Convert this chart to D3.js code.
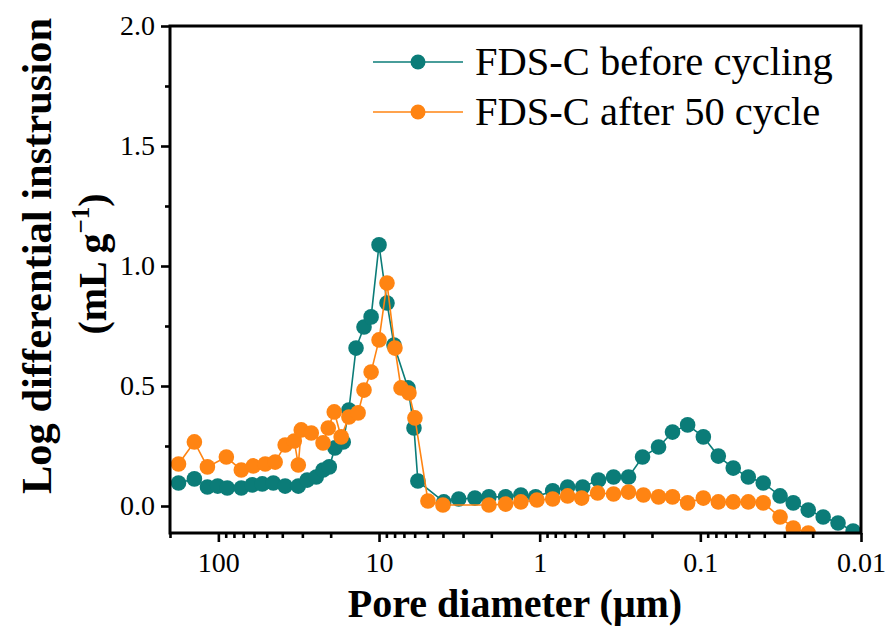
<!DOCTYPE html>
<html>
<head>
<meta charset="utf-8">
<script src="https://cdn.jsdelivr.net/npm/d3@7"></script>
<style>
  body { margin: 0; background: #fff; }
  svg { display: block; }
</style>
</head>
<body>
<div id="chart"></div>
<script>
// pore diameter (um) and log differential intrusion
const beforeDiam = [177, 141, 117, 101, 88, 72, 61.5, 53.3, 45.5, 38.4, 31.8, 28, 24.6, 22.3, 20.4, 18.8, 16.7, 15.4, 13.9, 12.4, 11.2, 10,
  8.92, 8.07, 6.6, 6.06, 5.73, 3.95, 3.19, 2.53, 2.07, 1.63, 1.31, 1.06, 0.83, 0.67, 0.54, 0.43, 0.347, 0.28, 0.229, 0.182, 0.149, 0.12,
  0.0958, 0.0773, 0.0624, 0.0503, 0.0406, 0.0319, 0.0264, 0.0213, 0.0172, 0.0139, 0.0112]
const beforeVal = [0.096, 0.113, 0.079, 0.083, 0.075, 0.075, 0.088, 0.092, 0.096, 0.083, 0.083, 0.108, 0.121, 0.15, 0.163, 0.242, 0.267, 0.40, 0.658, 0.746, 0.788, 1.088,
  0.846, 0.671, 0.492, 0.325, 0.104, 0.017, 0.029, 0.033, 0.038, 0.038, 0.046, 0.038, 0.063, 0.079, 0.079, 0.108, 0.121, 0.121, 0.204, 0.246, 0.308, 0.338,
  0.288, 0.208, 0.158, 0.121, 0.096, 0.042, 0.013, -0.017, -0.046, -0.071, -0.104]

const afterDiam = [177, 141, 117, 89.2, 72, 60.6, 51.1, 44.3, 38.4, 33.7, 31.8, 30.5, 26.4, 22.3, 20.7, 19, 17.2, 15.4, 13.5, 12.4, 11.2, 10,
  8.92, 7.96, 7.3, 6.51, 5.98, 4.96, 4.0, 2.07, 1.63, 1.31, 1.04, 0.83, 0.67, 0.548, 0.436, 0.347, 0.28, 0.226, 0.182, 0.149, 0.12,
  0.0958, 0.0773, 0.0624, 0.0503, 0.0406, 0.0319, 0.0264, 0.0213]
const afterVal = [0.175, 0.267, 0.163, 0.204, 0.15, 0.167, 0.175, 0.183, 0.254, 0.271, 0.171, 0.317, 0.304, 0.263, 0.325, 0.392, 0.288, 0.371, 0.388, 0.483, 0.558, 0.692,
  0.929, 0.658, 0.492, 0.471, 0.367, 0.021, 0.004, 0.004, 0.008, 0.017, 0.025, 0.029, 0.042, 0.033, 0.054, 0.05, 0.058, 0.046, 0.038, 0.038, 0.013,
  0.033, 0.017, 0.017, 0.017, 0.013, -0.046, -0.092, -0.113]

const seriesNames = ['FDS-C before cycling', 'FDS-C after 50 cycle']
const seriesColors = ['#0b7c78', '#ff8412']
const xTicks = [100, 10, 1, 0.1, 0.01]
const xTickLabels = ['100', '10', '1', '0.1', '0.01']
const yTicks = [0, 0.5, 1.0, 1.5, 2.0]

const W = 889, H = 628
const margin = {left: 170, right: 28, top: 26, bottom: 95}

const svg = d3.select('#chart').append('svg').attr('width', W).attr('height', H)

const x = d3.scaleLog().domain([200, 0.01]).range([margin.left, W - margin.right])
const y = d3.scaleLinear().domain([-0.1125, 2.0]).range([H - margin.bottom, margin.top])

const serif = '"Liberation Serif", "Times New Roman", serif'

svg.append('clipPath').attr('id', 'plotclip')
  .append('rect')
  .attr('x', margin.left).attr('y', margin.top)
  .attr('width', W - margin.left - margin.right)
  .attr('height', H - margin.top - margin.bottom)

const plot = svg.append('g').attr('clip-path', 'url(#plotclip)')

const series = [
  {name: seriesNames[0], color: seriesColors[0], pts: beforeDiam.map((d, i) => [d, beforeVal[i]])},
  {name: seriesNames[1], color: seriesColors[1], pts: afterDiam.map((d, i) => [d, afterVal[i]])}
]

const line = d3.line().x(d => x(d[0])).y(d => y(d[1]))

series.forEach(s => {
  const g = plot.append('g')
  g.append('path')
    .attr('d', line(s.pts))
    .attr('fill', 'none')
    .attr('stroke', s.color)
    .attr('stroke-width', 1.6)
  g.selectAll('circle')
    .data(s.pts)
    .join('circle')
    .attr('cx', d => x(d[0]))
    .attr('cy', d => y(d[1]))
    .attr('r', 7.8)
    .attr('fill', s.color)
})

// axes
const xMinor = []
for (let e = -2; e <= 2; e++) {
  for (let k = 2; k <= 9; k++) {
    const v = k * Math.pow(10, e)
    if (v <= 200 && v >= 0.01) xMinor.push(v)
  }
}
const yMinor = [0.25, 0.75, 1.25, 1.75]

const xAxisG = svg.append('g').attr('transform', `translate(0,${H - margin.bottom})`)
xAxisG.call(d3.axisBottom(x).tickValues(xMinor).tickSize(5).tickFormat(''))
xAxisG.append('g').call(d3.axisBottom(x).tickValues(xTicks).tickSize(9).tickPadding(10)
  .tickFormat((d, i) => xTickLabels[i]))

const yAxisG = svg.append('g').attr('transform', `translate(${margin.left},0)`)
yAxisG.call(d3.axisLeft(y).tickValues(yMinor).tickSize(5).tickFormat(''))
yAxisG.append('g').call(d3.axisLeft(y).tickValues(yTicks).tickSize(9).tickPadding(6)
  .tickFormat(d3.format('.1f')))

svg.selectAll('.domain').remove()
svg.selectAll('.tick line').attr('stroke', '#000').attr('stroke-width', 2.6)
svg.selectAll('.tick text')
  .attr('fill', '#000')
  .style('font-family', serif)
  .style('font-size', '28px')

// frame
svg.append('rect')
  .attr('x', margin.left).attr('y', margin.top)
  .attr('width', W - margin.left - margin.right)
  .attr('height', H - margin.top - margin.bottom)
  .attr('fill', 'none')
  .attr('stroke', '#000')
  .attr('stroke-width', 3)

// axis titles
svg.append('text')
  .attr('x', 515)
  .attr('y', 617)
  .attr('text-anchor', 'middle')
  .style('font-family', serif)
  .style('font-weight', 'bold')
  .style('font-size', '40px')
  .text('Pore diameter (\u03bcm)')

svg.append('text')
  .attr('transform', 'translate(51,256) rotate(-90)')
  .attr('text-anchor', 'middle')
  .style('font-family', serif)
  .style('font-weight', 'bold')
  .style('font-size', '42.5px')
  .text('Log differential instrusion')

const unit = svg.append('text')
  .attr('transform', 'translate(106,264) rotate(-90)')
  .attr('text-anchor', 'middle')
  .style('font-family', serif)
  .style('font-weight', 'bold')
  .style('font-size', '40px')
unit.append('tspan').text('(mL g')
unit.append('tspan').attr('dy', -17).style('font-size', '25px').text('\u22121')
unit.append('tspan').attr('dy', 17).text(')')

// legend
const leg = svg.append('g')
series.forEach((s, i) => {
  const ly = 62 + i * 50
  leg.append('line')
    .attr('x1', 373).attr('x2', 463).attr('y1', ly).attr('y2', ly)
    .attr('stroke', s.color).attr('stroke-width', 1.6)
  leg.append('circle').attr('cx', 418).attr('cy', ly).attr('r', 7.5).attr('fill', s.color)
  leg.append('text')
    .attr('x', 475).attr('y', ly + 13)
    .style('font-family', serif)
    .style('font-size', '40.5px')
    .text(s.name)
})
</script>
</body>
</html>
